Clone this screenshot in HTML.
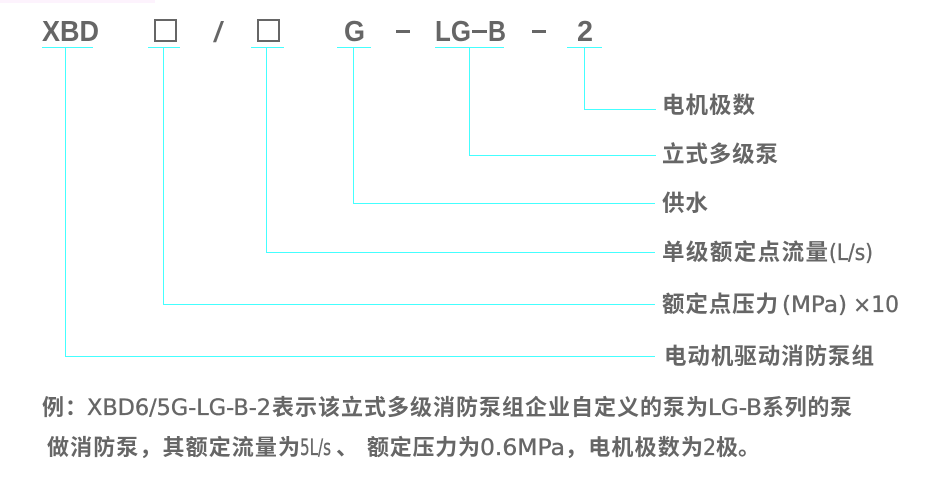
<!DOCTYPE html>
<html>
<head>
<meta charset="utf-8">
<style>
html,body{margin:0;padding:0;background:#fff;}
svg{display:block;}
text{fill:#666;font-family:"Liberation Sans","Noto Sans CJK SC",sans-serif;font-weight:700;}
.h{font-size:29px;}
.c{font-size:22.5px;font-family:"Liberation Sans","Noto Sans CJK SC",sans-serif;}
.b{font-size:22px;font-family:"Liberation Sans","Noto Sans CJK SC",sans-serif;}
.l{font-size:22px;font-weight:400;font-family:"DejaVu Sans",sans-serif;stroke:#666;stroke-width:.35px;}
.n{font-size:22px;font-weight:700;font-family:"Liberation Sans",sans-serif;}
</style>
</head>
<body>
<svg width="935" height="488" viewBox="0 0 935 488" xmlns="http://www.w3.org/2000/svg">
<rect width="935" height="488" fill="#fff"/>
<rect x="0" y="0" width="155" height="3" fill="#fdf3fd"/>

<g fill="#4ff">
<rect x="42" y="47" width="51" height="1"/><rect x="65" y="47" width="1" height="310"/><rect x="65" y="356" width="590" height="1"/>
<rect x="148" y="47" width="32" height="1"/><rect x="163" y="47" width="1" height="258"/><rect x="163" y="304" width="492" height="1"/>
<rect x="251" y="47" width="33" height="1"/><rect x="266" y="47" width="1" height="206"/><rect x="266" y="252" width="389" height="1"/>
<rect x="337" y="47" width="34" height="1"/><rect x="353" y="47" width="1" height="157"/><rect x="353" y="203" width="302" height="1"/>
<rect x="435" y="47" width="69" height="1"/><rect x="469" y="47" width="1" height="109"/><rect x="469" y="155" width="187" height="1"/>
<rect x="567" y="47" width="35" height="1"/><rect x="584" y="47" width="1" height="63"/><rect x="584" y="109" width="72" height="1"/>
</g>

<text class="h" x="42" y="41" textLength="57" lengthAdjust="spacingAndGlyphs">XBD</text>
<rect x="155" y="20" width="21" height="21" fill="none" stroke="#666" stroke-width="2"/>
<text class="h" x="213" y="42" style="font-weight:400" textLength="11" lengthAdjust="spacingAndGlyphs">/</text>
<rect x="258" y="20" width="21" height="21" fill="none" stroke="#666" stroke-width="2"/>
<text class="h" x="344" y="41" textLength="21" lengthAdjust="spacingAndGlyphs">G</text>
<rect x="396" y="30" width="14" height="3" fill="#666"/>
<text class="h" x="435" y="41" textLength="36" lengthAdjust="spacingAndGlyphs">LG</text>
<rect x="472" y="30" width="15" height="3" fill="#666"/>
<text class="h" x="488" y="41" textLength="18" lengthAdjust="spacingAndGlyphs">B</text>
<rect x="532" y="30" width="14" height="3" fill="#666"/>
<text class="h" x="577" y="41" textLength="16" lengthAdjust="spacingAndGlyphs">2</text>

<text class="c" x="662" y="113" textLength="93">电机极数</text>
<text class="c" x="662" y="162" textLength="116">立式多级泵</text>
<text class="c" x="662" y="211" textLength="46">供水</text>
<text class="c" x="662" y="260" textLength="166">单级额定点流量</text>
<text class="l" x="829" y="260" textLength="44" lengthAdjust="spacingAndGlyphs">(L/s)</text>
<text class="c" x="662" y="312" textLength="116">额定点压力</text>
<text class="l" x="782" y="312" textLength="65" lengthAdjust="spacingAndGlyphs">(MPa)</text>
<text class="l" x="853" y="312" textLength="46" lengthAdjust="spacingAndGlyphs">×10</text>
<text class="c" x="664" y="364" textLength="210">电动机驱动消防泵组</text>

<text class="b" x="42" y="415" textLength="45">例：</text>
<text class="l" x="87" y="415" textLength="184" lengthAdjust="spacingAndGlyphs">XBD6/5G-LG-B-2</text>
<text class="b" x="272" y="415" textLength="436">表示该立式多级消防泵组企业自定义的泵为</text>
<text class="l" x="708" y="415" textLength="54" lengthAdjust="spacingAndGlyphs">LG-B</text>
<text class="b" x="762" y="415" textLength="90">系列的泵</text>

<text class="b" x="47" y="455" textLength="253">做消防泵，其额定流量为</text>
<text class="l" x="300" y="455" textLength="31" lengthAdjust="spacingAndGlyphs">5L/s</text>
<text class="b" x="336" y="455">、</text>
<text class="b" x="367" y="455" textLength="113">额定压力为</text>
<text class="l" x="480" y="455" textLength="85" lengthAdjust="spacingAndGlyphs">0.6MPa</text>
<text class="b" x="565" y="455" textLength="138">，电机极数为</text>
<text class="l" x="703" y="455" textLength="13" lengthAdjust="spacingAndGlyphs">2</text>
<text class="b" x="716" y="455">极</text>
<text class="b" x="738" y="455">。</text>
</svg>
</body>
</html>
